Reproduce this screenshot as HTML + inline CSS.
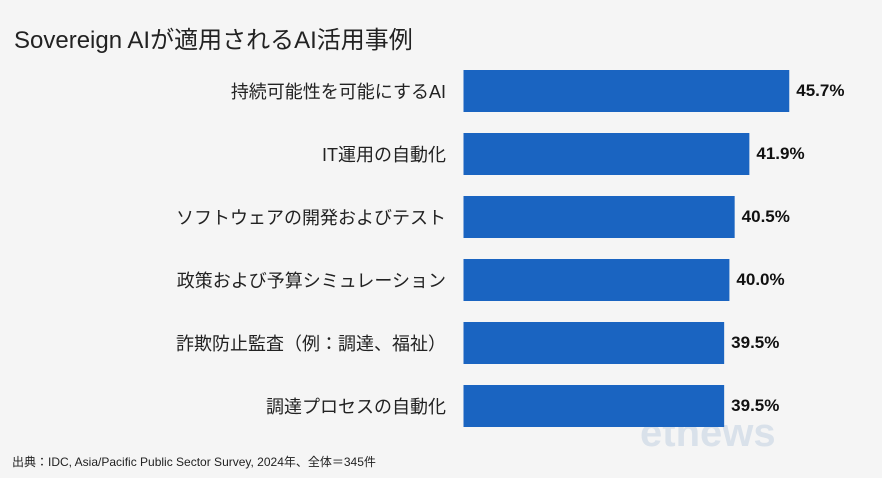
<!DOCTYPE html>
<html><head><meta charset="utf-8"><style>
body{margin:0;background:#f5f5f5;}
#c{position:relative;width:882px;height:478px;overflow:hidden;background:#f5f5f5;font-family:"Liberation Sans","Noto Sans CJK JP",sans-serif;}
</style></head><body>
<div id="c">
<svg id="s" width="882" height="478">
<text x="14" y="48" font-size="24" fill="#222" font-family="Liberation Sans, Noto Sans CJK JP, sans-serif">Sovereign AIが適用されるAI活用事例</text>
<text x="12" y="466" font-size="12" fill="#222" font-family="Liberation Sans, Noto Sans CJK JP, sans-serif">出典：IDC, Asia/Pacific Public Sector Survey, 2024年、全体＝345件</text>
<text x="640" y="446" font-size="40" font-weight="bold" fill="#c8d4e4" opacity="0.6" font-family="Liberation Sans, sans-serif">etnews</text>
<g id="bars"></g>
</svg>
</div>
<script>
const categories=["持続可能性を可能にするAI","IT運用の自動化","ソフトウェアの開発およびテスト","政策および予算シミュレーション","詐欺防止監査（例：調達、福祉）","調達プロセスの自動化"];
const values=[45.7,41.9,40.5,40.0,39.5,39.5];
const valueLabels=["45.7%","41.9%","40.5%","40.0%","39.5%","39.5%"];
const x0=463.5, k=10.5, vRef=41.18, wRef=278.3;
function xw(v){return wRef+k*(v-vRef);}
function yTop(i){return 70+i*63;}
const ns="http://www.w3.org/2000/svg", g=document.getElementById('bars');
categories.forEach((c,i)=>{
  const y=yTop(i), w=xw(values[i]);
  const r=document.createElementNS(ns,'rect');
  r.setAttribute('x',x0);r.setAttribute('y',y);r.setAttribute('width',w);r.setAttribute('height',42);r.setAttribute('fill','#1a64c1');
  
  
  g.appendChild(r);
  const t=document.createElementNS(ns,'text');
  t.setAttribute('x',446);t.setAttribute('y',y+28);t.setAttribute('text-anchor','end');t.setAttribute('font-size','18');t.setAttribute('fill','#222');
  t.setAttribute('font-family','Liberation Sans, Noto Sans CJK JP, sans-serif');
  t.textContent=c;
  
  
  g.appendChild(t);
  const v=document.createElementNS(ns,'text');
  v.setAttribute('x',x0+w+7);v.setAttribute('y',y+26);v.setAttribute('font-size','17');v.setAttribute('font-weight','bold');v.setAttribute('fill','#111');
  v.setAttribute('font-family','Liberation Sans, sans-serif');
  v.textContent=valueLabels[i];
  
  
  g.appendChild(v);
});
</script>
</body></html>
